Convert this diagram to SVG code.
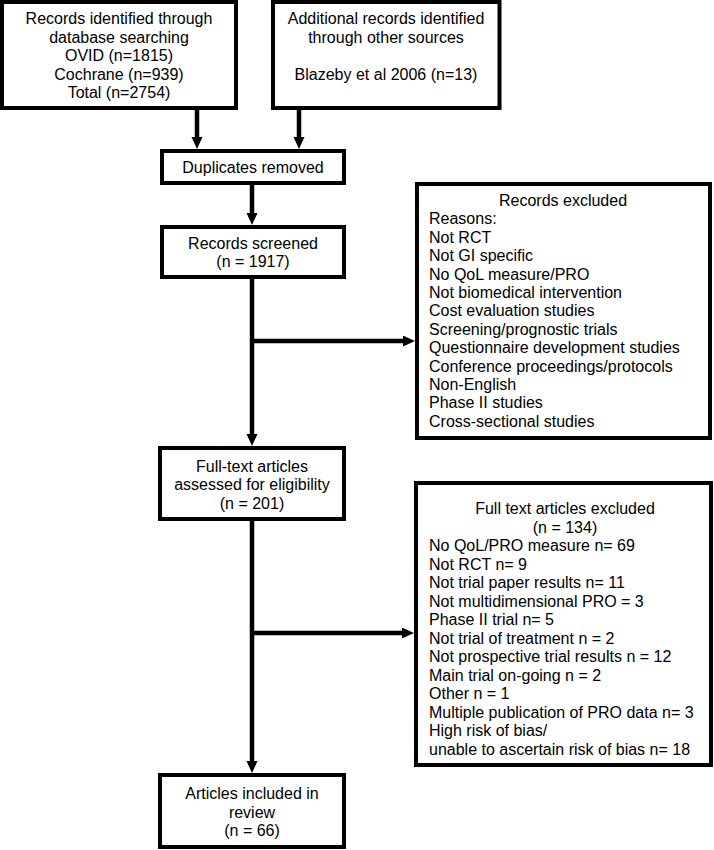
<svg xmlns="http://www.w3.org/2000/svg" width="714" height="850" viewBox="0 0 714 850">
<style>
.box{fill:#fff;stroke:#000;stroke-width:4}
.t{font-family:"Liberation Sans",Arial,sans-serif;font-size:16px;fill:#000}
.c{text-anchor:middle}
.conn{stroke:#000;stroke-width:4.5;fill:none}
</style>
<defs>
<marker id="ah" markerUnits="userSpaceOnUse" markerWidth="12" markerHeight="12" refX="0" refY="5.5" orient="auto">
<path d="M0,0 L12,5.5 L0,11 z" fill="#000"/>
</marker>
</defs>
<rect width="714" height="850" fill="#fff"/>
<g id="connectors">
<line class="conn" x1="197" y1="108" x2="197" y2="137" marker-end="url(#ah)"/>
<line class="conn" x1="299" y1="108" x2="299" y2="137" marker-end="url(#ah)"/>
<line class="conn" x1="252" y1="183" x2="252" y2="213" marker-end="url(#ah)"/>
<line class="conn" x1="252" y1="277" x2="252" y2="434" marker-end="url(#ah)"/>
<line class="conn" x1="252" y1="341" x2="403" y2="341" marker-end="url(#ah)"/>
<line class="conn" x1="252" y1="519" x2="252" y2="761" marker-end="url(#ah)"/>
<line class="conn" x1="252" y1="633" x2="402" y2="633" marker-end="url(#ah)"/>
</g>
<g id="n_db">
<rect class="box" x="2" y="2" width="234" height="106"/>
<text class="t c" x="119" y="24">Records identified through</text>
<text class="t c" x="119" y="42.5">database searching</text>
<text class="t c" x="119" y="61">OVID (n=1815)</text>
<text class="t c" x="119" y="79.5">Cochrane (n=939)</text>
<text class="t c" x="119" y="98">Total (n=2754)</text>
</g>
<g id="n_other">
<rect class="box" x="273" y="2" width="226.5" height="106"/>
<text class="t c" x="386" y="24">Additional records identified</text>
<text class="t c" x="386" y="42.5">through other sources</text>
<text class="t c" x="386" y="79.5">Blazeby et al 2006 (n=13)</text>
</g>
<g id="n_dup">
<rect class="box" x="162" y="151" width="182" height="32"/>
<text class="t c" x="253" y="173">Duplicates removed</text>
</g>
<g id="n_screened">
<rect class="box" x="162" y="227" width="182" height="50"/>
<text class="t c" x="253" y="248.5">Records screened</text>
<text class="t c" x="253" y="267">(n = 1917)</text>
</g>
<g id="n_excl1">
<rect class="box" x="417" y="184" width="293" height="254"/>
<text class="t c" x="563" y="206">Records excluded</text>
<text class="t" x="429" y="224.4">Reasons:</text>
<text class="t" x="429" y="242.8">Not RCT</text>
<text class="t" x="429" y="261.2">Not GI specific</text>
<text class="t" x="429" y="279.6">No QoL measure/PRO</text>
<text class="t" x="429" y="298">Not biomedical intervention</text>
<text class="t" x="429" y="316.4">Cost evaluation studies</text>
<text class="t" x="429" y="334.8">Screening/prognostic trials</text>
<text class="t" x="429" y="353.2">Questionnaire development studies</text>
<text class="t" x="429" y="371.6">Conference proceedings/protocols</text>
<text class="t" x="429" y="390">Non-English</text>
<text class="t" x="429" y="408.4">Phase II studies</text>
<text class="t" x="429" y="426.8">Cross-sectional studies</text>
</g>
<g id="n_fulltext">
<rect class="box" x="160" y="448" width="184" height="71"/>
<text class="t c" x="252" y="471.5">Full-text articles</text>
<text class="t c" x="252" y="490">assessed for eligibility</text>
<text class="t c" x="252" y="508.5">(n = 201)</text>
</g>
<g id="n_excl2">
<rect class="box" x="416" y="483" width="295" height="282"/>
<text class="t c" x="565" y="514">Full text articles excluded</text>
<text class="t c" x="565" y="532.5">(n = 134)</text>
<text class="t" x="429" y="551">No QoL/PRO measure n= 69</text>
<text class="t" x="429" y="569.5">Not RCT n= 9</text>
<text class="t" x="429" y="588">Not trial paper results n= 11</text>
<text class="t" x="429" y="606.5">Not multidimensional PRO = 3</text>
<text class="t" x="429" y="625">Phase II trial n= 5</text>
<text class="t" x="429" y="643.5">Not trial of treatment n = 2</text>
<text class="t" x="429" y="662">Not prospective trial results n = 12</text>
<text class="t" x="429" y="680.5">Main trial on-going n = 2</text>
<text class="t" x="429" y="699">Other n = 1</text>
<text class="t" x="429" y="717.5">Multiple publication of PRO data n= 3</text>
<text class="t" x="429" y="736">High risk of bias/</text>
<text class="t" x="429" y="754.5">unable to ascertain risk of bias n= 18</text>
</g>
<g id="n_included">
<rect class="box" x="160" y="775" width="184" height="72"/>
<text class="t c" x="252" y="799">Articles included in</text>
<text class="t c" x="252" y="817.5">review</text>
<text class="t c" x="252" y="836">(n = 66)</text>
</g>
</svg>
